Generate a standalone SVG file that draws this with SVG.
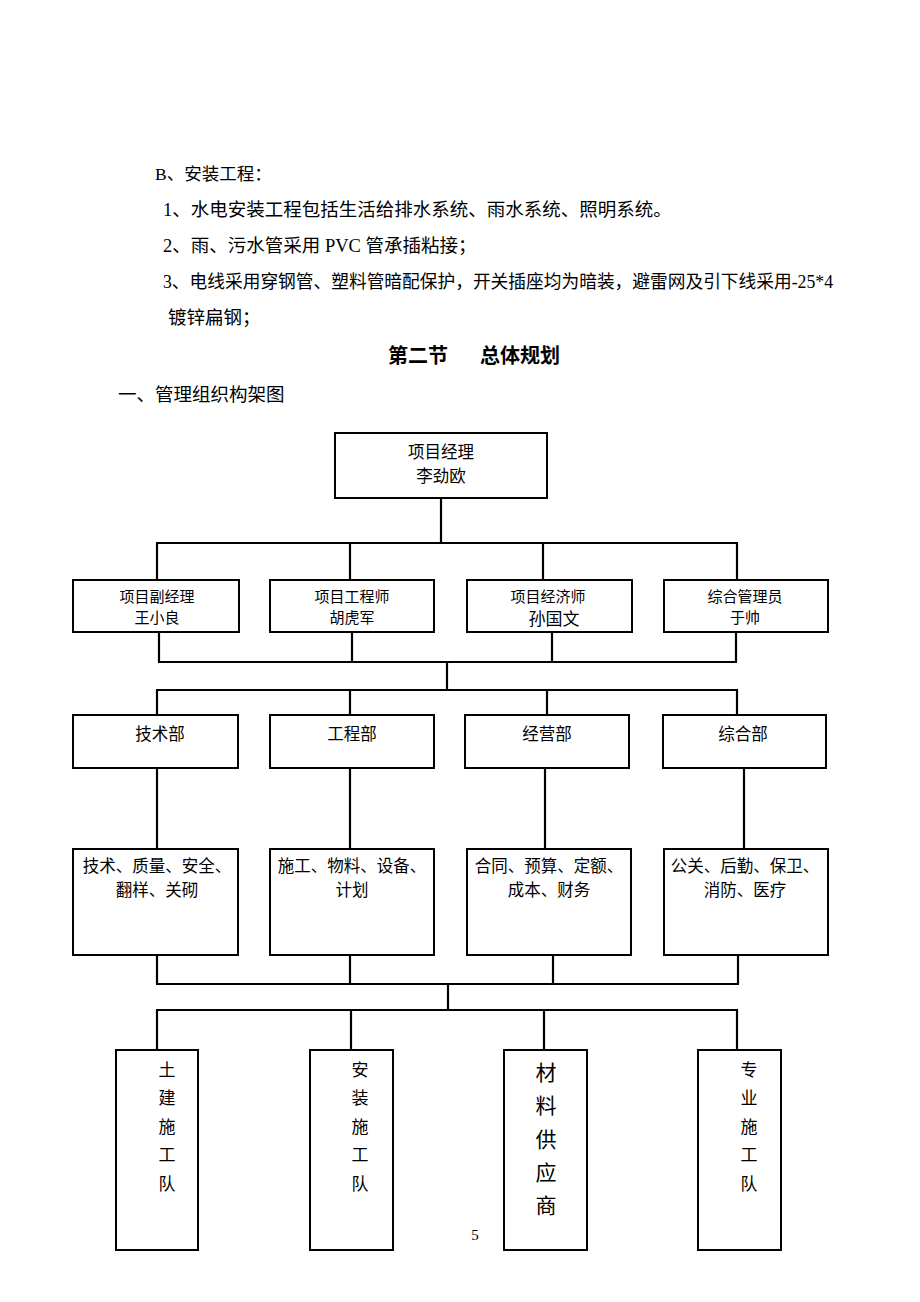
<svg xmlns="http://www.w3.org/2000/svg" width="920" height="1302" viewBox="0 0 920 1302">
<style>
text{font-family:"Liberation Serif","Noto Sans CJK SC",serif;fill:#000}
.p{font-size:18.5px}
.b{font-size:15px;text-anchor:middle}
.m{font-size:16.5px;text-anchor:middle}
.v{font-size:17px;text-anchor:middle}
.vl{font-size:21px;text-anchor:middle}
.h{font-size:20px;font-weight:bold}
rect{fill:#fff;stroke:#000;stroke-width:2}
#connectors line{stroke:#000;stroke-width:2.2}
</style>
<rect x="0" y="0" width="920" height="1302" style="stroke:none"/>
<g id="body-text">
<text x="155" y="180" style="font-size:17.5px">B、安装工程：</text>
<text class="p" x="163" y="216">1、水电安装工程包括生活给排水系统、雨水系统、照明系统。</text>
<text class="p" x="163" y="252">2、雨、污水管采用 PVC 管承插粘接；</text>
<text class="p" x="163" y="288" textLength="670" lengthAdjust="spacingAndGlyphs">3、电线采用穿钢管、塑料管暗配保护，开关插座均为暗装，避雷网及引下线采用-25*4</text>
<text class="p" x="168" y="324">镀锌扁钢；</text>
<text class="h" x="388" y="363">第二节</text>
<text class="h" x="480" y="363">总体规划</text>
<text class="p" x="118" y="401">一、管理组织构架图</text>
<text x="475" y="1240" style="font-size:15px;text-anchor:middle">5</text>
</g>
<g id="connectors">
<line x1="441" y1="498" x2="441" y2="543"/>
<line x1="156" y1="543" x2="738" y2="543"/>
<line x1="157" y1="543" x2="157" y2="580"/>
<line x1="350" y1="543" x2="350" y2="580"/>
<line x1="543" y1="543" x2="543" y2="580"/>
<line x1="737" y1="543" x2="737" y2="580"/>
<line x1="159" y1="632" x2="159" y2="662"/>
<line x1="352" y1="632" x2="352" y2="662"/>
<line x1="552" y1="632" x2="552" y2="662"/>
<line x1="736" y1="632" x2="736" y2="662"/>
<line x1="158" y1="662" x2="737" y2="662"/>
<line x1="447" y1="662" x2="447" y2="690"/>
<line x1="156" y1="690" x2="738" y2="690"/>
<line x1="157" y1="690" x2="157" y2="715"/>
<line x1="350" y1="690" x2="350" y2="715"/>
<line x1="547" y1="690" x2="547" y2="715"/>
<line x1="737" y1="690" x2="737" y2="715"/>
<line x1="157" y1="768" x2="157" y2="849"/>
<line x1="350" y1="768" x2="350" y2="849"/>
<line x1="545" y1="768" x2="545" y2="849"/>
<line x1="744" y1="768" x2="744" y2="849"/>
<line x1="157" y1="955" x2="157" y2="984"/>
<line x1="350" y1="955" x2="350" y2="984"/>
<line x1="553" y1="955" x2="553" y2="984"/>
<line x1="738" y1="955" x2="738" y2="984"/>
<line x1="156" y1="984" x2="739" y2="984"/>
<line x1="448" y1="984" x2="448" y2="1010"/>
<line x1="156" y1="1010" x2="738" y2="1010"/>
<line x1="157" y1="1010" x2="157" y2="1050"/>
<line x1="351" y1="1010" x2="351" y2="1050"/>
<line x1="544" y1="1010" x2="544" y2="1050"/>
<line x1="737" y1="1010" x2="737" y2="1050"/>
</g>
<g id="pm">
<rect x="335" y="433" width="212" height="65"/>
<text class="m" x="441" y="458">项目经理</text>
<text class="m" x="441" y="482">李劲欧</text>
</g>
<g id="deputy">
<rect x="73" y="580" width="166" height="52"/>
<text class="b" x="157" y="602">项目副经理</text>
<text class="b" x="157" y="623">王小良</text>
</g>
<g id="engineer">
<rect x="270" y="580" width="164" height="52"/>
<text class="b" x="352" y="602">项目工程师</text>
<text class="b" x="352" y="623">胡虎军</text>
</g>
<g id="economist">
<rect x="467" y="580" width="165" height="52"/>
<text class="b" x="548" y="602">项目经济师</text>
<text x="554" y="625" style="font-size:17px;text-anchor:middle">孙国文</text>
</g>
<g id="admin">
<rect x="664" y="580" width="164" height="52"/>
<text class="b" x="745" y="602">综合管理员</text>
<text class="b" x="745" y="623">于帅</text>
</g>
<g id="tech-dept">
<rect x="73" y="715" width="165" height="53"/>
<text class="m" x="160" y="740">技术部</text>
</g>
<g id="eng-dept">
<rect x="270" y="715" width="164" height="53"/>
<text class="m" x="352" y="740">工程部</text>
</g>
<g id="biz-dept">
<rect x="465" y="715" width="164" height="53"/>
<text class="m" x="547" y="740">经营部</text>
</g>
<g id="gen-dept">
<rect x="663" y="715" width="163" height="53"/>
<text class="m" x="743" y="740">综合部</text>
</g>
<g id="tech-duty">
<rect x="73" y="849" width="165" height="106"/>
<text class="m" x="157" y="872">技术、质量、安全、</text>
<text class="m" x="157" y="896">翻样、关砌</text>
</g>
<g id="eng-duty">
<rect x="270" y="849" width="164" height="106"/>
<text class="m" x="352" y="872">施工、物料、设备、</text>
<text class="m" x="352" y="896">计划</text>
</g>
<g id="biz-duty">
<rect x="467" y="849" width="164" height="106"/>
<text class="m" x="549" y="872">合同、预算、定额、</text>
<text class="m" x="549" y="896">成本、财务</text>
</g>
<g id="gen-duty">
<rect x="664" y="849" width="164" height="106"/>
<text class="m" x="745" y="872">公关、后勤、保卫、</text>
<text class="m" x="745" y="896">消防、医疗</text>
</g>
<g id="civil-team">
<rect x="116" y="1050" width="82" height="200"/>
<text class="v" x="167" y="1076">土</text>
<text class="v" x="167" y="1104">建</text>
<text class="v" x="167" y="1133">施</text>
<text class="v" x="167" y="1161">工</text>
<text class="v" x="167" y="1190">队</text>
</g>
<g id="install-team">
<rect x="310" y="1050" width="83" height="200"/>
<text class="v" x="360" y="1076">安</text>
<text class="v" x="360" y="1104">装</text>
<text class="v" x="360" y="1133">施</text>
<text class="v" x="360" y="1161">工</text>
<text class="v" x="360" y="1190">队</text>
</g>
<g id="supplier">
<rect x="504" y="1050" width="83" height="200"/>
<text class="vl" x="546" y="1080">材</text>
<text class="vl" x="546" y="1113">料</text>
<text class="vl" x="546" y="1147">供</text>
<text class="vl" x="546" y="1180">应</text>
<text class="vl" x="546" y="1213">商</text>
</g>
<g id="special-team">
<rect x="698" y="1050" width="83" height="200"/>
<text class="v" x="749" y="1076">专</text>
<text class="v" x="749" y="1104">业</text>
<text class="v" x="749" y="1133">施</text>
<text class="v" x="749" y="1161">工</text>
<text class="v" x="749" y="1190">队</text>
</g>
</svg>
